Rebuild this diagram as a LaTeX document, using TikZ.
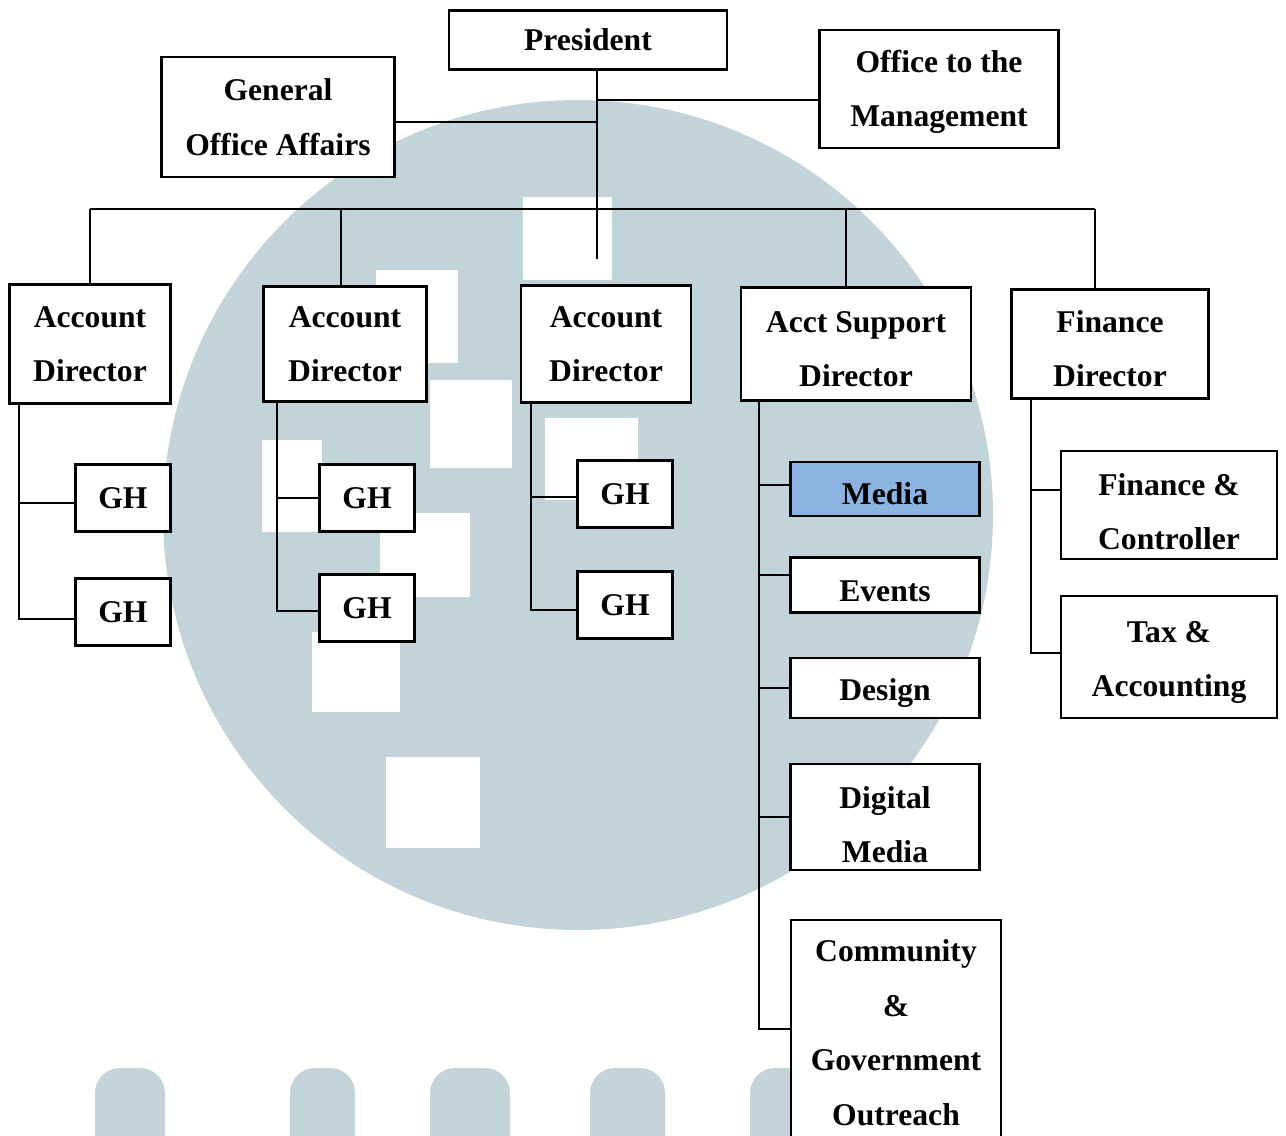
\documentclass[tikz,border=0pt]{standalone}
\usepackage{fontspec}
\setmainfont{Liberation Serif}
\usetikzlibrary{positioning}
\definecolor{wmblue}{HTML}{C2D3DA}
\definecolor{mediablue}{HTML}{8DB3E2}
% taller first line pushes the text down a little
\newcommand{\topgap}[1]{\rule{0pt}{#1}}

\begin{document}
\begin{tikzpicture}[x=0.2mm, y=-0.2mm, on grid,
  main/.style = {draw, fill=white, line width=1.4pt, align=center, inner sep=2pt, font=\bfseries\fontsize{18}{31}\selectfont},
  gh/.style = {main, minimum width=19mm, minimum height=13.4mm},
  unit/.style = {main, minimum width=37.8mm},
  link/.style = {line width=1pt}]
\useasboundingbox (0,0) rectangle (1286,1136);
% faint watermark behind the chart
\fill[wmblue] (578,515) circle [radius=83mm];
\fill[white] (523,197) rectangle (612,280);
\fill[white] (376,270) rectangle (458,363);
\fill[white] (430,380) rectangle (512,468);
\fill[white] (262,440) rectangle (322,532);
\fill[white] (545,418) rectangle (638,500);
\fill[white] (380,513) rectangle (470,597);
\fill[white] (312,632) rectangle (400,712);
\fill[white] (386,757) rectangle (480,848);
\fill[wmblue, rounded corners=5mm] (95,1180) rectangle (165,1068);
\fill[wmblue, rounded corners=5mm] (290,1180) rectangle (355,1068);
\fill[wmblue, rounded corners=5mm] (430,1180) rectangle (510,1068);
\fill[wmblue, rounded corners=5mm] (590,1180) rectangle (665,1068);
\fill[wmblue, rounded corners=5mm] (750,1180) rectangle (810,1068);

\node[main, minimum width=55.6mm, minimum height=11.8mm] (p) at (588,40) {President};
\node[main, minimum width=46.6mm, minimum height=24mm] (goa) [below left=15.4mm and 62mm of p] {General\\Office Affairs};
\node[main, minimum width=47.8mm, minimum height=23.6mm] (otm) [below right=9.8mm and 70.2mm of p] {\topgap{15.7pt}Office to the\\Management};
\node[main, minimum width=34mm, minimum height=23.4mm] (a3) [below right=60.8mm and 3.6mm of p] {Account\\Director};
\node[main, minimum width=32.6mm, minimum height=23mm] (a2) [left=52.2mm of a3] {Account\\Director};
\node[main, minimum width=32.2mm, minimum height=23.8mm] (a1) [left=51mm of a2] {Account\\Director};
\node[main, minimum width=46mm, minimum height=22.6mm] (s) [right=50mm of a3] {\topgap{18pt}Acct Support\\Director};
\node[main, minimum width=39.4mm, minimum height=21.8mm] (f) [right=50.8mm of s] {\topgap{18pt}Finance\\Director};
\node[gh] (g1) [below right=30.8mm and 6.6mm of a1] {GH};
\node[gh] (g2) [below=22.8mm of g1] {GH};
\node[gh] (g3) [below right=30.8mm and 4.4mm of a2] {GH};
\node[gh] (g4) [below=22mm of g3] {GH};
\node[gh] (g5) [below right=30mm and 3.8mm of a3] {GH};
\node[gh] (g6) [below=22.2mm of g5] {GH};
\node[unit, minimum height=10.8mm, fill=mediablue] (m) [below right=29mm and 5.8mm of s] {\topgap{18pt}Media};
\node[unit, minimum height=11mm] (e) [below=19.2mm of m] {\topgap{19pt}Events};
\node[unit, minimum height=12mm] (d) [below=20.6mm of e] {\topgap{18pt}Design};
\node[unit, minimum height=21.2mm] (dm) [below=25.8mm of d] {\topgap{21.4pt}Digital\\Media};
\node[unit, minimum width=42mm, minimum height=43.6mm] (c) [below right=42.4mm and 2.2mm of dm] {\topgap{16.8pt}Community\\\&\\Government\\Outreach};
\node[main, minimum width=43.2mm, minimum height=21.6mm] (fc) [below right=32.2mm and 11.8mm of f] {\topgap{20.3pt}Finance \&\\Controller};
\node[main, minimum width=43.2mm, minimum height=24.4mm] (ta) [below=30.4mm of fc] {\topgap{18pt}Tax \&\\Accounting};

% trunk and top bar
\coordinate (t) at ([xshift=1.8mm]p.south);
\coordinate (h) at ([yshift=-27.6mm]t);
\draw[link] (t) -- ([yshift=-37.6mm]t);
\draw[line width=1.6pt] ([yshift=-22.2mm]t) -- ([yshift=-37.6mm]t);
\coordinate (o) at ([yshift=-2.2mm]otm.west);
\coordinate (g) at ([yshift=-1mm]goa.east);
\draw[link] (o) -- (o -| t);
\draw[link] (g) -- (g -| t);
\coordinate (a2top) at ([xshift=-0.8mm]a2.north);
\coordinate (stop) at ([xshift=-2mm]s.north);
\coordinate (ftop) at ([xshift=-3mm]f.north);
\draw[link] (a1.north |- h) -- (ftop |- h);
\draw[link] (a1.north) -- (a1.north |- h);
\draw[link] (a2top) -- (a2top |- h);
\draw[link] (stop) -- (stop |- h);
\draw[link] (ftop) -- (ftop |- h);

% branches under each director
\draw[link] ([xshift=2.2mm]a1.south west) |- ([yshift=-1mm]g1.west);
\draw[link] ([xshift=2.2mm]a1.south west) |- ([yshift=-1.4mm]g2.west);
\draw[link] ([xshift=3mm]a2.south west) |- (g3.west);
\draw[link] ([xshift=3mm]a2.south west) |- ([yshift=-0.6mm]g4.west);
\draw[link] ([xshift=2.2mm]a3.south west) |- ([yshift=-0.6mm]g5.west);
\draw[link] ([xshift=2.2mm]a3.south west) |- ([yshift=-1mm]g6.west);
\draw[link] ([xshift=3.8mm]s.south west) |- ([yshift=0.8mm]m.west);
\draw[link] ([xshift=3.8mm]s.south west) |- ([yshift=2mm]e.west);
\draw[link] ([xshift=3.8mm]s.south west) |- (d.west);
\draw[link] ([xshift=3.8mm]s.south west) |- (dm.west);
\draw[link] ([xshift=3.8mm]s.south west) |- (c.west);
\draw[link] ([xshift=4.2mm]f.south west) |- ([yshift=3mm]fc.west);
\draw[link] ([xshift=4.2mm]f.south west) |- ([yshift=0.8mm]ta.west);
\end{tikzpicture}
\end{document}
